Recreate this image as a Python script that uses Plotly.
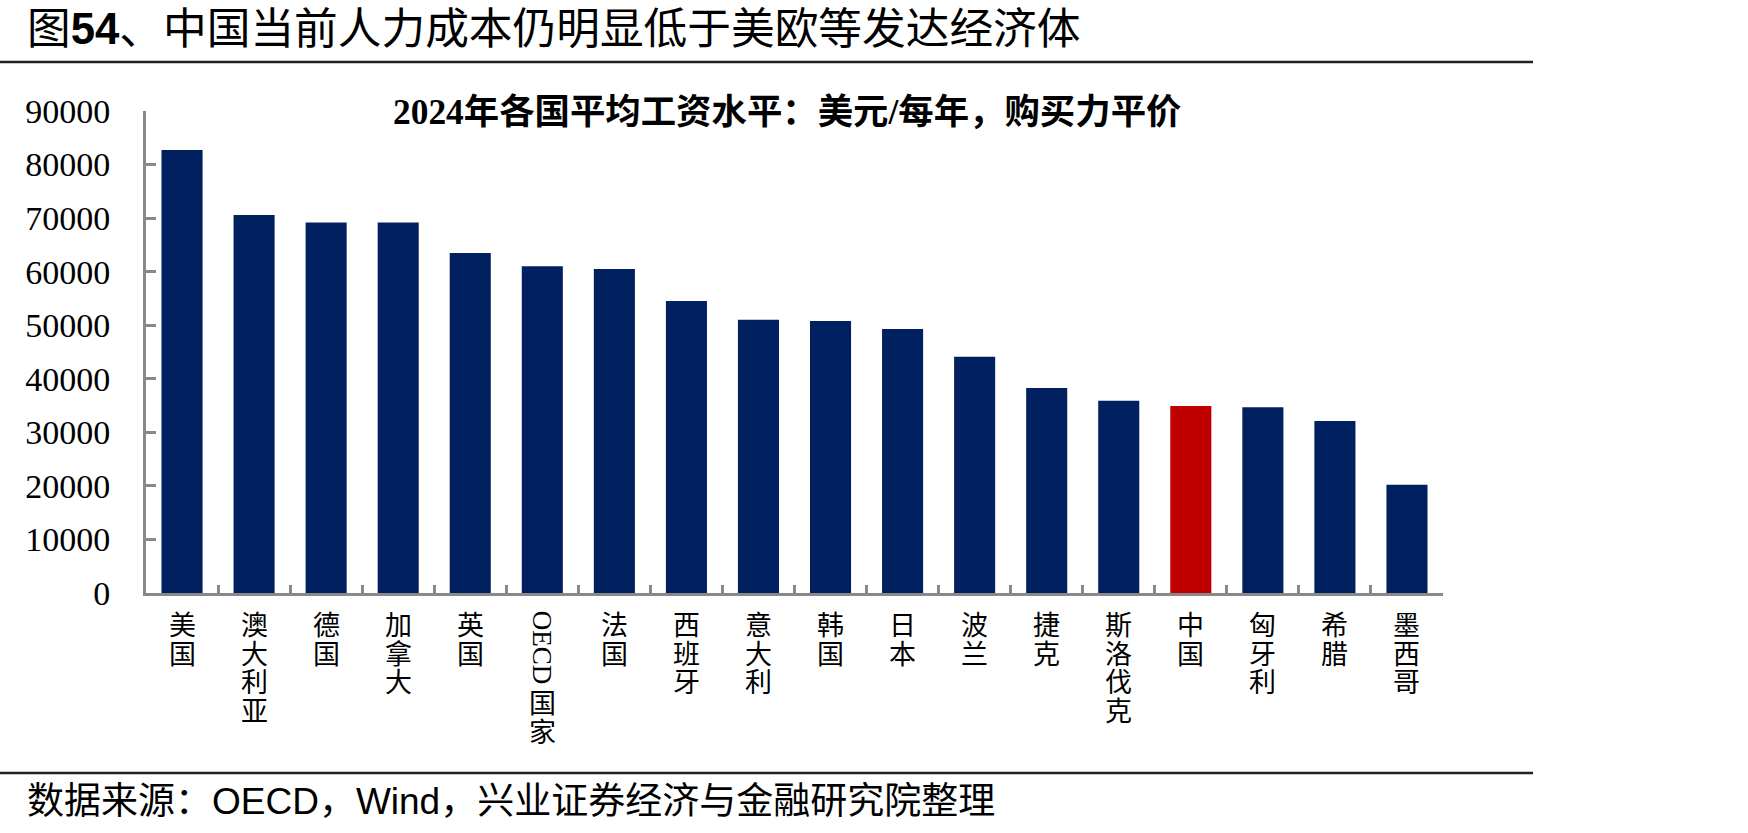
import plotly.graph_objects as go

# ---- data ----
categories = ["美国", "澳大利亚", "德国", "加拿大", "英国", "OECD国家", "法国", "西班牙", "意大利",
              "韩国", "日本", "波兰", "捷克", "斯洛伐克", "中国", "匈牙利", "希腊", "墨西哥"]
wages = [82700, 70600, 69200, 69200, 63500, 61000, 60500, 54500, 51000,
         50800, 49300, 44100, 38300, 35900, 34900, 34700, 32100, 20200]
highlight = "中国"
y_ticks = [0, 10000, 20000, 30000, 40000, 50000, 60000, 70000, 80000, 90000]
y_tick_labels = ["0", "10000", "20000", "30000", "40000", "50000", "60000", "70000", "80000", "90000"]

main_title = "图<b>54</b>、中国当前人力成本仍明显低于美欧等发达经济体"
chart_title = "2024年各国平均工资水平：美元/每年，购买力平价"
source_text = "数据来源：OECD，Wind，兴业证券经济与金融研究院整理"

# ---- layout geometry (pixels) ----
W, H = 1748, 833
L, R, T, B = 146, 1443, 111, 593
PW, PH = R - L, B - T

def px(xp):
    return (xp - L) / PW

def py(yp):
    return (B - yp) / PH

NAVY = "#002060"
RED = "#C00000"
GRAY = "#898989"
SERIF = "Liberation Serif, Times New Roman, Noto Sans CJK SC"
SANS = "Liberation Sans, Arial, Noto Sans CJK SC"

colors = [RED if c == highlight else NAVY for c in categories]

fig = go.Figure(go.Bar(x=categories, y=wages, marker=dict(color=colors, line=dict(width=0)),
                       hoverinfo="x+y"))

fig.update_layout(
    width=W, height=H,
    margin=dict(l=L, r=W - R, t=T, b=H - B, pad=0),
    paper_bgcolor="white", plot_bgcolor="white",
    bargap=0.43, showlegend=False,
    xaxis=dict(type="category", showline=True, linecolor=GRAY, linewidth=3,
               ticks="inside", tickson="boundaries", ticklen=8, tickwidth=3, tickcolor=GRAY,
               showticklabels=False, showgrid=False, zeroline=False, fixedrange=True),
    yaxis=dict(range=[0, 90000], tickmode="array", tickvals=y_ticks, ticktext=y_tick_labels,
               showline=True, linecolor=GRAY, linewidth=3,
               ticks="inside", ticklen=10, tickwidth=3, tickcolor=GRAY,
               tickfont=dict(family=SERIF, size=34, color="black"),
               ticklabelstandoff=26,
               showgrid=False, zeroline=False, fixedrange=True),
)

ann = []
# main title
ann.append(dict(text=main_title, x=px(25), y=py(29), xref="paper", yref="paper",
                xanchor="left", yanchor="middle", showarrow=False,
                font=dict(family=SANS, size=43.7, color="black")))
# chart title
ann.append(dict(text="<b>" + chart_title + "</b>", x=px(787), y=py(112), xref="paper", yref="paper",
                xanchor="center", yanchor="middle", showarrow=False,
                font=dict(family=SERIF, size=35.4, color="black")))
# source
ann.append(dict(text=source_text, x=px(25), y=py(801), xref="paper", yref="paper",
                xanchor="left", yanchor="middle", showarrow=False,
                font=dict(family=SANS, size=37, color="black")))

# vertical x-axis labels (stacked characters; Latin runs rotated)
LAB_SIZE = 27
PITCH = 28.5
LATIN_ADV = 19.5
START = 16
for cat in categories:
    runs = []
    for ch in cat:
        latin = ch.isascii()
        if runs and runs[-1][0] and latin:
            runs[-1][1] += ch
        else:
            runs.append([latin, ch])
    off = START
    for latin, txt in runs:
        if latin:
            ann.append(dict(text=txt, x=cat, y=0, xref="x", yref="y", xanchor="center",
                            yanchor="top", yshift=-off, textangle=90, showarrow=False,
                            font=dict(family=SERIF, size=LAB_SIZE, color="black")))
            off += LATIN_ADV * len(txt)
        else:
            ann.append(dict(text=txt, x=cat, y=0, xref="x", yref="y", xanchor="center",
                            yanchor="top", yshift=-off, showarrow=False,
                            font=dict(family=SERIF, size=LAB_SIZE, color="black")))
            off += PITCH
fig.update_layout(annotations=ann)

# separator lines
fig.add_shape(type="line", xref="paper", yref="paper", x0=px(0), x1=px(1533), y0=py(62), y1=py(62),
              line=dict(color="#222222", width=2.5))
fig.add_shape(type="line", xref="paper", yref="paper", x0=px(0), x1=px(1533), y0=py(773), y1=py(773),
              line=dict(color="#222222", width=2.5))

fig.write_html("out.html", config={"displayModeBar": False})
